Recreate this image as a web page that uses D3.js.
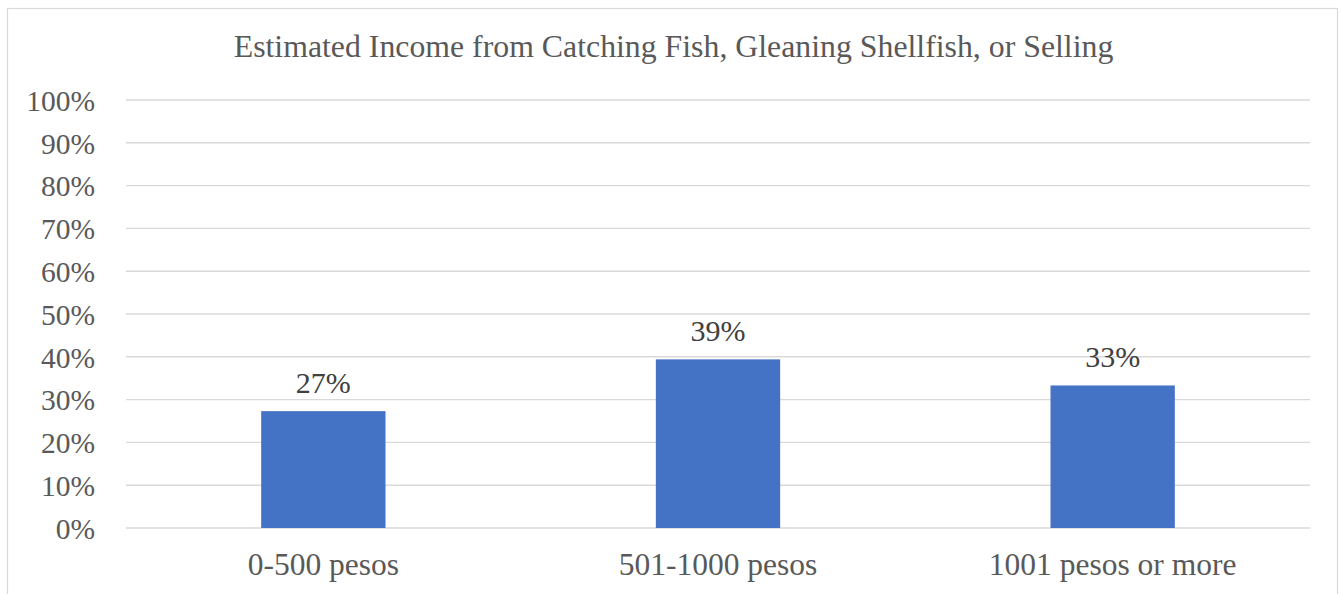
<!DOCTYPE html>
<html>
<head>
<meta charset="utf-8">
<script src="https://cdn.jsdelivr.net/npm/d3@7"></script>
<style>
  html, body { margin: 0; padding: 0; background: #fff; }
  svg { display: block; }
</style>
</head>
<body>
<svg id="chart" width="1342" height="594"></svg>
<script>
// Income brackets and share of respondents in each
const categories = ["0-500 pesos", "501-1000 pesos", "1001 pesos or more"];
const shares = [0.273, 0.394, 0.333];
const yTicks = [0, 0.1, 0.2, 0.3, 0.4, 0.5, 0.6, 0.7, 0.8, 0.9, 1.0];
const chartTitle = "Estimated Income from Catching Fish, Gleaning Shellfish, or Selling";

const svg = d3.select("#chart");
const font = "'Liberation Serif', 'Times New Roman', serif";

// outer chart frame (bottom edge falls below the view)
svg.append("rect")
  .attr("x", 7.5).attr("y", 8.5)
  .attr("width", 1330).attr("height", 620)
  .attr("fill", "#fff")
  .attr("stroke", "#d9d9d9").attr("stroke-width", 1.2);

const plot = { left: 126, right: 1310, top: 100, bottom: 528 };

const x = d3.scaleBand()
  .domain(categories)
  .range([plot.left, plot.right])
  .paddingInner(0.685)
  .paddingOuter(0.3425);

const y = d3.scaleLinear()
  .domain([0, 1])
  .range([plot.bottom, plot.top]);

// title
svg.append("text")
  .attr("x", 673.5).attr("y", 57)
  .attr("text-anchor", "middle")
  .attr("font-family", font)
  .attr("font-size", 31.8)
  .attr("fill", "#595959")
  .text(chartTitle);

// gridlines
svg.append("g")
  .selectAll("line")
  .data(yTicks)
  .join("line")
  .attr("x1", plot.left).attr("x2", plot.right)
  .attr("y1", d => y(d)).attr("y2", d => y(d))
  .attr("stroke", "#d9d9d9")
  .attr("stroke-width", 1.4);

// y axis labels
const yAxis = d3.axisLeft(y)
  .tickValues(yTicks)
  .tickFormat(d3.format(".0%"))
  .tickSize(0)
  .tickPadding(0);
const yG = svg.append("g")
  .attr("transform", `translate(95,0)`)
  .call(yAxis);
yG.select(".domain").remove();
yG.selectAll("text")
  .attr("font-family", font)
  .attr("font-size", 29.5)
  .attr("fill", "#595959")
  .attr("dy", "0.35em");

// bars
svg.append("g")
  .selectAll("rect")
  .data(shares)
  .join("rect")
  .attr("x", (d, i) => x(categories[i]))
  .attr("width", x.bandwidth())
  .attr("y", d => y(d))
  .attr("height", d => y(0) - y(d))
  .attr("fill", "#4472c4");

// value labels
svg.append("g")
  .selectAll("text")
  .data(shares)
  .join("text")
  .attr("x", (d, i) => x(categories[i]) + x.bandwidth() / 2)
  .attr("y", d => y(d) - 18)
  .attr("text-anchor", "middle")
  .attr("font-family", font)
  .attr("font-size", 30)
  .attr("fill", "#404040")
  .text(d3.format(".0%"));

// category axis
const xAxis = d3.axisBottom(x).tickSize(0).tickPadding(0);
const xG = svg.append("g")
  .attr("transform", `translate(0,${plot.bottom})`)
  .call(xAxis);
xG.select(".domain").remove();
xG.selectAll("text")
  .attr("font-family", font)
  .attr("font-size", 31.5)
  .attr("fill", "#595959")
  .attr("dy", null)
  .attr("y", 47);
</script>
</body>
</html>
